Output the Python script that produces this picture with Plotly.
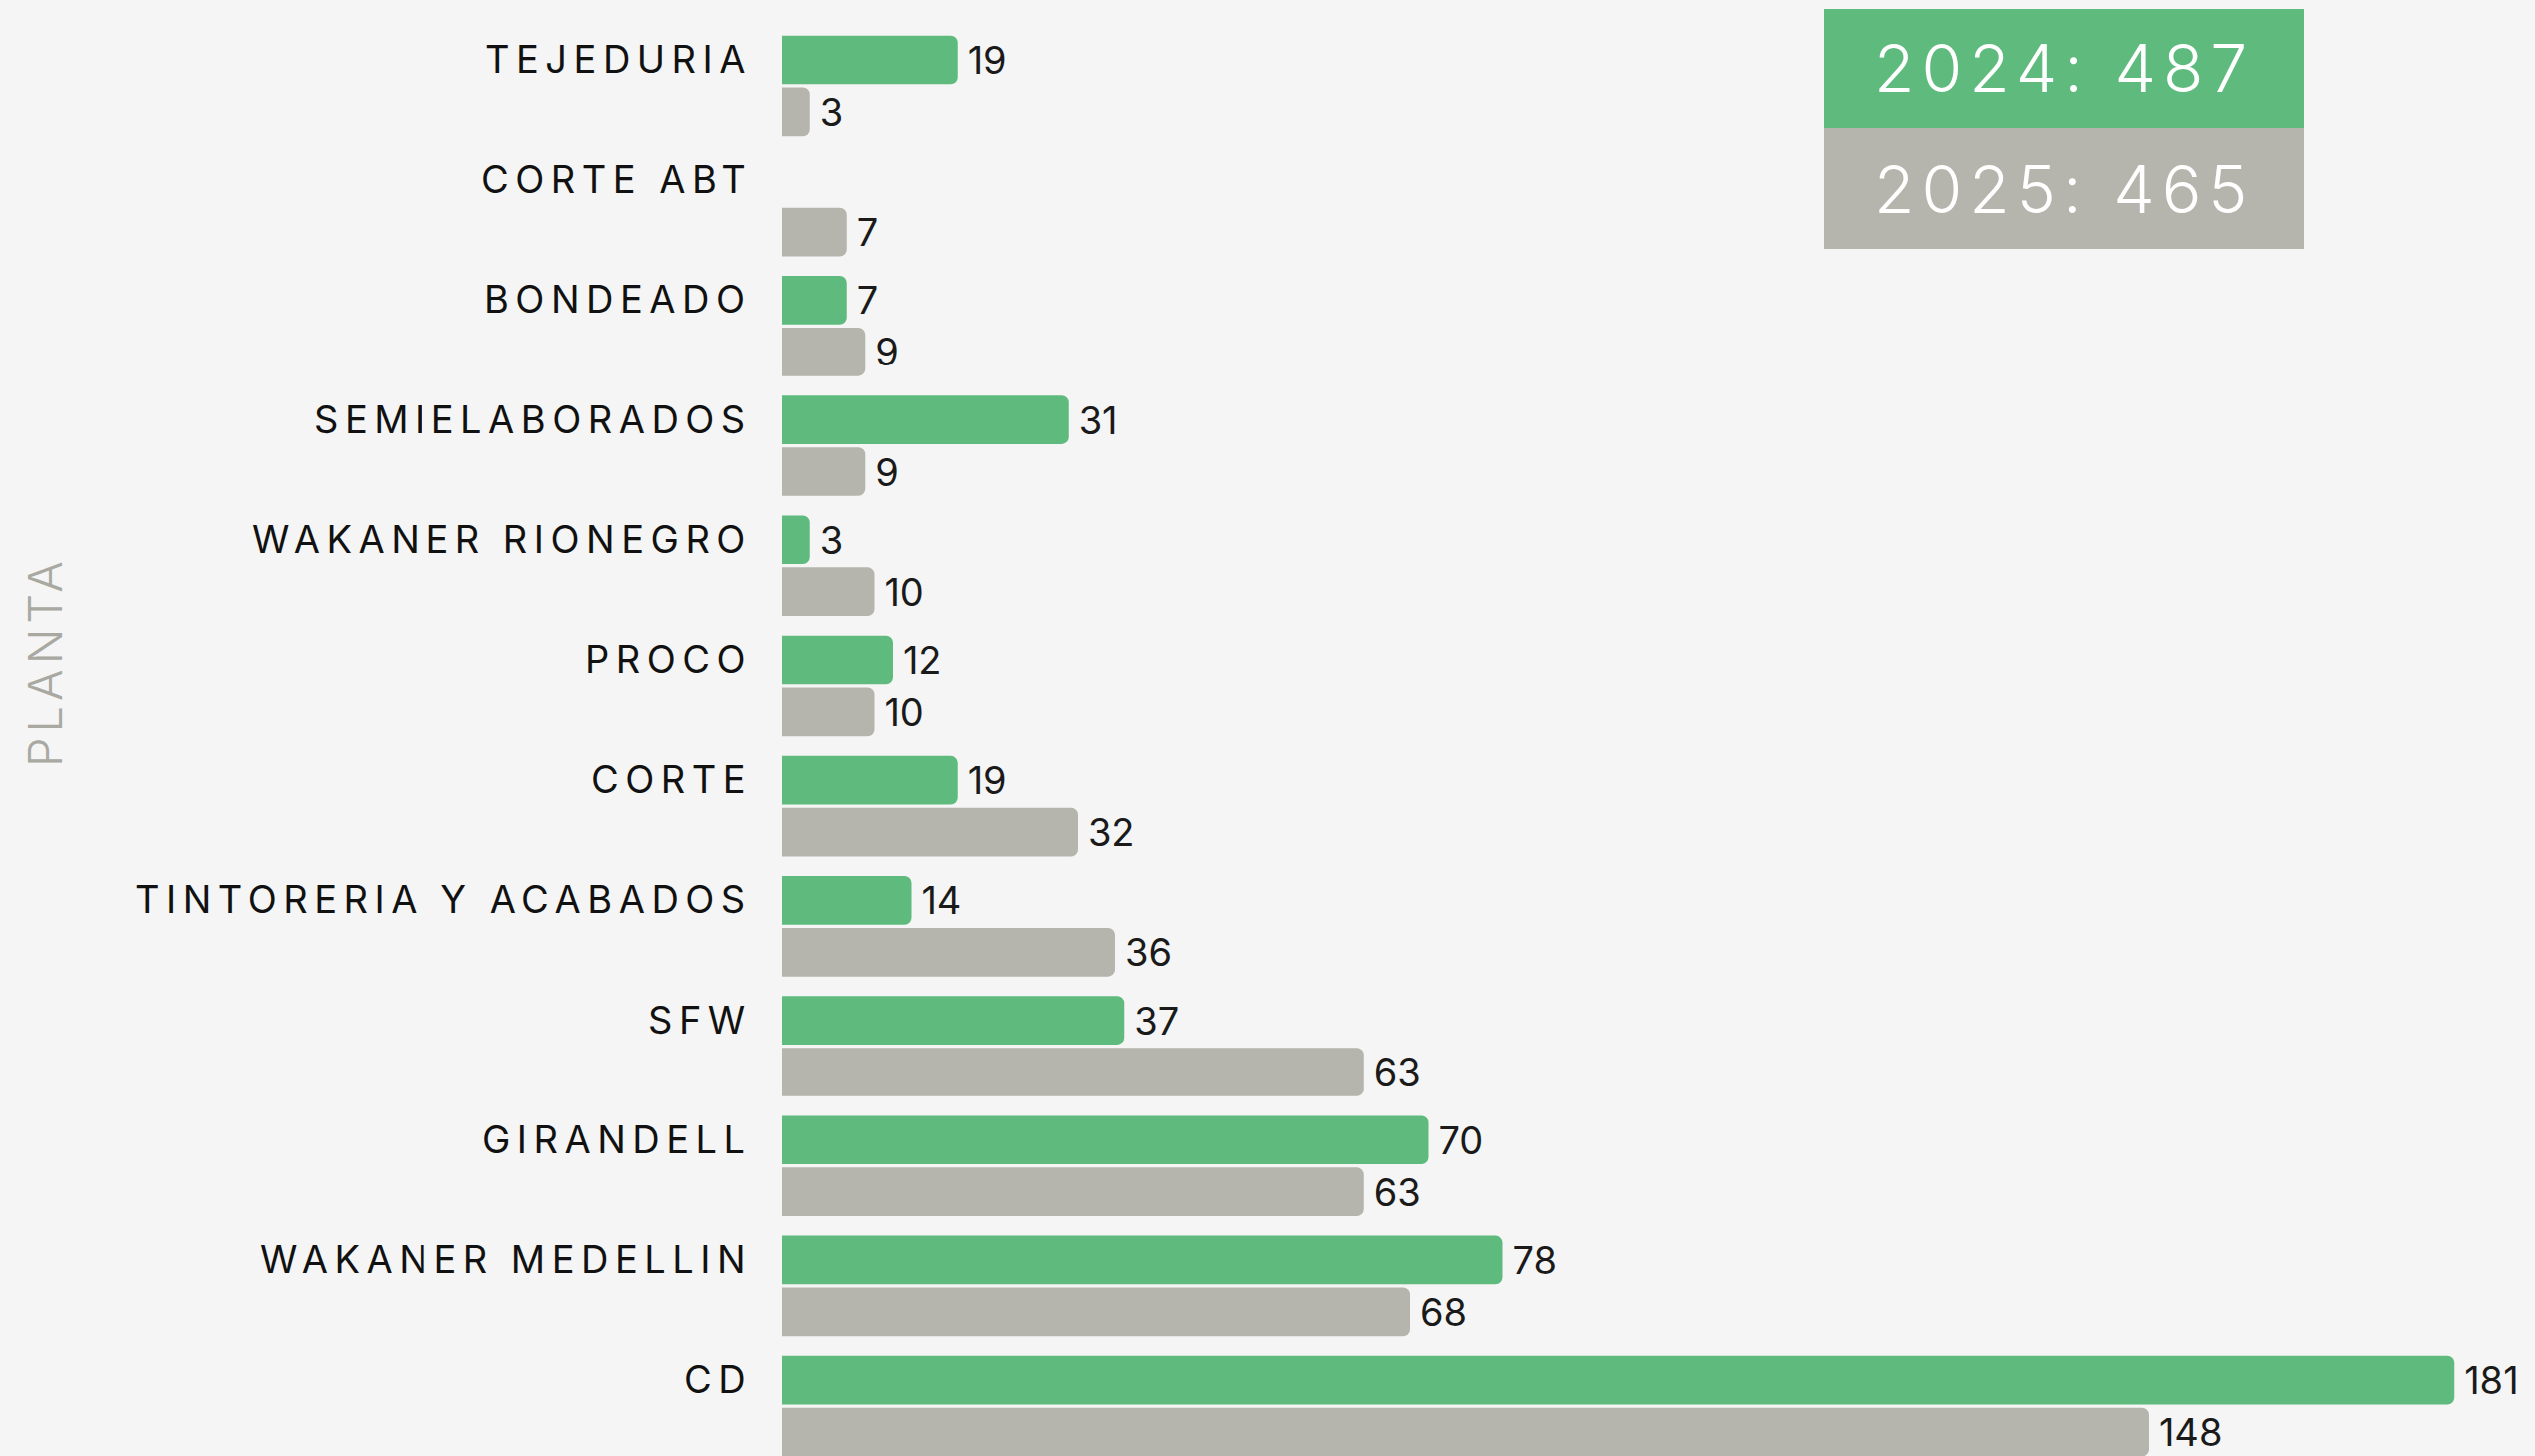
import plotly.graph_objects as go

categories = ["TEJEDURIA", "CORTE ABT", "BONDEADO", "SEMIELABORADOS", "WAKANER RIONEGRO",
              "PROCO", "CORTE", "TINTORERIA Y ACABADOS", "SFW", "GIRANDELL",
              "WAKANER MEDELLIN", "CD"]
values_2024 = [19, None, 7, 31, 3, 12, 19, 14, 37, 70, 78, 181]
values_2025 = [3, 7, 9, 9, 10, 10, 32, 36, 63, 63, 68, 148]
series_names = ["2024", "2025"]
total_labels = ["2024: 487", "2025: 465"]
axis_title = "PLANTA"

GREEN = "#5fbb7d"
GRAY = "#b5b5ad"
BG = "#f4f5f4"
FONT = "Inter"

W, H = 2538, 1458
L = 783


def spaced(t, ls):
    return f'<span style="letter-spacing:{ls}px">{t}</span>'


fig = go.Figure()
for name, vals, col in [(series_names[0], values_2024, GREEN), (series_names[1], values_2025, GRAY)]:
    fig.add_trace(go.Bar(
        y=categories, x=vals, name=name, orientation="h",
        marker=dict(color=col, line=dict(width=0)),
        text=[None if v is None else f"\u2009{v}" for v in vals],
        textposition="outside", cliponaxis=False, constraintext="none",
        textfont=dict(family=FONT, size=38, color="#1a1a1a"),
        hoverinfo="skip",
    ))

annotations = []
for c in categories:
    annotations.append(dict(
        x=0, xref="paper", y=c, yref="y", xanchor="right", yanchor="middle",
        xshift=-28, yshift=27, showarrow=False,
        text=spaced(c, 6.5), font=dict(family=FONT, size=38, color="#111111", weight=400),
    ))

annotations.append(dict(
    x=(44 - L) / (W - L), xref="paper", y=1 - 663 / H, yref="paper",
    textangle=-90, showarrow=False, xanchor="center", yanchor="middle",
    text=spaced(axis_title, 5), font=dict(family=FONT, size=47, color="#a9a9a2", weight=300),
))

# total boxes
x0 = (1826 - L) / (W - L)
x1 = (2307 - L) / (W - L)
ys = [9, 128, 249]
shapes = []
for i, col in enumerate([GREEN, GRAY]):
    y_top = 1 - ys[i] / H
    y_bot = 1 - ys[i + 1] / H
    shapes.append(dict(type="rect", xref="paper", yref="paper", x0=x0, x1=x1,
                       y0=y_bot, y1=y_top, fillcolor=col, line=dict(width=0), layer="above"))
    annotations.append(dict(
        x=(x0 + x1) / 2, xref="paper", y=(y_top + y_bot) / 2, yref="paper",
        showarrow=False, xanchor="center", yanchor="middle",
        text=spaced(total_labels[i], 7), font=dict(family=FONT, size=66, color="white", weight=300),
    ))

fig.update_layout(
    width=W, height=H,
    margin=dict(l=L, r=0, t=0, b=0),
    paper_bgcolor=BG, plot_bgcolor=BG,
    barmode="group", bargap=0.136, bargroupgap=0.0625, barcornerradius=7,
    showlegend=False,
    xaxis=dict(range=[0, (W - L) / 9.25], visible=False, showgrid=False, zeroline=False),
    yaxis=dict(type="category", categoryorder="array", categoryarray=categories,
               range=[11.415, -0.715], showticklabels=False, showgrid=False,
               zeroline=False, showline=False, ticks=""),
    annotations=annotations, shapes=shapes,
)

fig.write_html("out.html", config={"displayModeBar": False},
               post_script="document.body.style.margin='0';document.body.style.overflow='hidden';")
